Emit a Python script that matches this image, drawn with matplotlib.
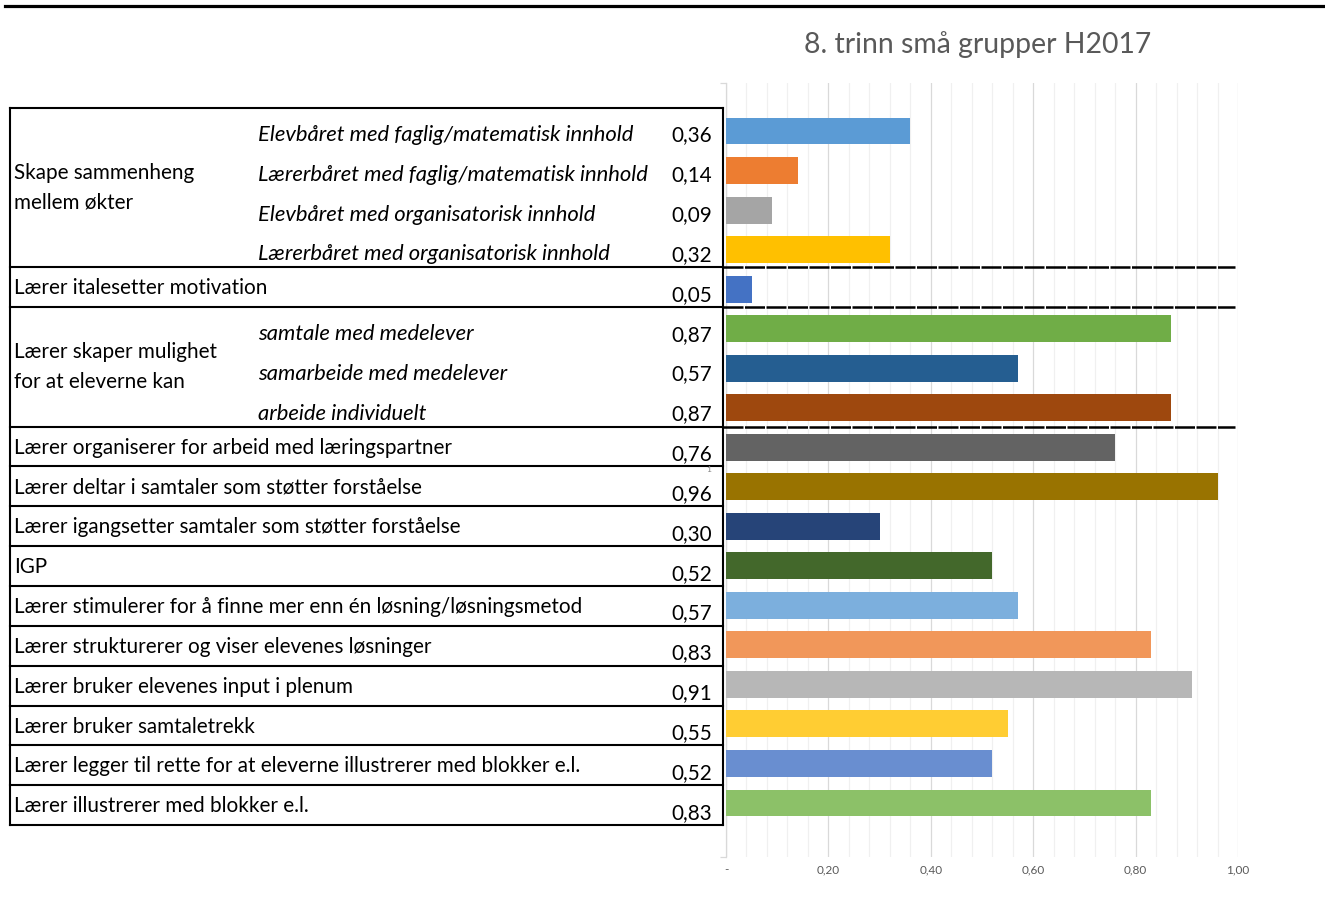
import matplotlib
matplotlib.use("Agg")
import matplotlib.pyplot as plt
from matplotlib.lines import Line2D
import numpy as np

plt.rcParams['font.family'] = ['Lato', 'DejaVu Sans']

# ---------------- data ----------------
title = "8. trinn små grupper H2017"
sub_labels = [
    "Elevbåret med faglig/matematisk innhold",
    "Lærerbåret med faglig/matematisk innhold",
    "Elevbåret med organisatorisk innhold",
    "Lærerbåret med organisatorisk innhold",
    "",
    "samtale med medelever",
    "samarbeide med medelever",
    "arbeide individuelt",
    "", "", "", "", "", "", "", "", "", "",
]
group_labels = [
    "Skape sammenheng\nmellem økter",
    "Lærer italesetter motivation",
    "Lærer skaper mulighet\nfor at eleverne kan",
    "Lærer organiserer for arbeid med læringspartner",
    "Lærer deltar i samtaler som støtter forståelse",
    "Lærer igangsetter samtaler som støtter forståelse",
    "IGP",
    "Lærer stimulerer for å finne mer enn én løsning/løsningsmetod",
    "Lærer strukturerer og viser elevenes løsninger",
    "Lærer bruker elevenes input i plenum",
    "Lærer bruker samtaletrekk",
    "Lærer legger til rette for at eleverne illustrerer med blokker e.l.",
    "Lærer illustrerer med blokker e.l.",
]
group_sizes = [4, 1, 3, 1, 1, 1, 1, 1, 1, 1, 1, 1, 1]
values = [0.36, 0.14, 0.09, 0.32, 0.05, 0.87, 0.57, 0.87, 0.76, 0.96,
          0.30, 0.52, 0.57, 0.83, 0.91, 0.55, 0.52, 0.83]
colors = ["#5B9BD5", "#ED7D31", "#A5A5A5", "#FFC000", "#4472C4", "#70AD47",
          "#255E91", "#9E480E", "#636363", "#997300", "#264478", "#43682B",
          "#7CAFDD", "#F1975A", "#B7B7B7", "#FFCD33", "#698ED0", "#8CC168"]
xticks = [0, 0.2, 0.4, 0.6, 0.8, 1.0]
xtick_labels = ["-", "0,20", "0,40", "0,60", "0,80", "1,00"]

# ---------------- figure ----------------
W, H = 1325, 897
fig = plt.figure(figsize=(W / 100, H / 100), dpi=100)
fig.patch.set_facecolor("white")

def fx(x):
    return x / W

def fy(y):
    return 1 - y / H

def hline(x0, x1, y, lw=1.5, color="black", **kw):
    fig.add_artist(Line2D([fx(x0), fx(x1)], [fy(y), fy(y)], transform=fig.transFigure,
                          lw=lw, color=color, **kw))

def vline(x, y0, y1, lw=1.5, color="black", **kw):
    fig.add_artist(Line2D([fx(x), fx(x)], [fy(y0), fy(y1)], transform=fig.transFigure,
                          lw=lw, color=color, **kw))

# top rule
hline(5, 1325, 6.5, lw=2.3)

# title
fig.text(fx(978), fy(44.5), title, ha="center", va="center", fontsize=20.4,
         color="#595959")

# ---------------- bar axes ----------------
ax_l, ax_r, ax_t, ax_b = 726, 1238, 83, 857
ax = fig.add_axes([fx(ax_l), fy(ax_b), (ax_r - ax_l) / W, (ax_b - ax_t) / H])
n = len(values)
ypos = np.arange(n)
ax.barh(ypos, values, height=0.68, color=colors, zorder=3)
ax.set_xlim(0, 1.0)
ax.set_ylim(n - 1 + 1.367, -1.215)
ax.set_xticks(xticks)
ax.set_xticklabels(xtick_labels)
ax.set_xticks(np.arange(0, 1.0001, 0.04), minor=True)
ax.grid(which="major", axis="x", color="#D9D9D9", lw=0.9, zorder=0)
ax.grid(which="minor", axis="x", color="#F0F0F0", lw=0.9, zorder=0)
ax.tick_params(axis="x", which="both", length=0, pad=5, labelsize=8.5, labelcolor="#595959")
ax.set_yticks([n - 1 + 1.367, -1.215])
ax.set_yticklabels([])
ax.tick_params(axis="y", length=4, color="#D9D9D9", width=0.9)
for s in ["top", "right", "bottom"]:
    ax.spines[s].set_visible(False)
ax.spines["left"].set_color("#D9D9D9")
ax.spines["left"].set_linewidth(0.9)
ax.set_facecolor("none")

# ---------------- table ----------------
t_left, t_right, t_top, t_bot = 10, 723, 108, 825
unit = (t_bot - t_top) / n
fs = 14.9
fs_it = 15.8

boundaries = [t_top]
row = 0
for gi, (glab, gsize) in enumerate(zip(group_labels, group_sizes)):
    g_top = t_top + row * unit
    g_bot = t_top + (row + gsize) * unit
    if gsize == 1:
        fig.text(fx(14), fy(g_top + 21), glab, ha="left", va="center", fontsize=fs)
    else:
        lines = glab.split("\n")
        gc = (g_top + g_bot) / 2
        fig.text(fx(14), fy(gc - 15), lines[0], ha="left", va="center", fontsize=fs)
        fig.text(fx(14), fy(gc + 15), lines[1], ha="left", va="center", fontsize=fs)
        for k in range(gsize):
            r_top = t_top + (row + k) * unit
            fig.text(fx(258), fy(r_top + 27), sub_labels[row + k], ha="left", va="center",
                     fontsize=fs_it, style="italic")
    for k in range(gsize):
        r_top = t_top + (row + k) * unit
        v = values[row + k]
        fig.text(fx(712), fy(r_top + 27.5), f"{v:.2f}".replace(".", ","), ha="right",
                 va="center", fontsize=fs)
    row += gsize
    boundaries.append(g_bot)

# table borders
for i, b in enumerate(boundaries):
    hline(t_left, t_right, b)
vline(t_left, t_top, t_bot)
vline(t_right, t_top, t_bot)

# dashed separators extending into chart
for b in boundaries[1:4]:
    hline(t_right, 1235, b, lw=1.8, ls=(0, (8, 0.6)))

# stray small label
fig.text(fx(709), fy(469), "1", ha="center", va="center", fontsize=6, color="#7F7F7F")

fig.savefig("out.png", dpi=100, facecolor="white")
